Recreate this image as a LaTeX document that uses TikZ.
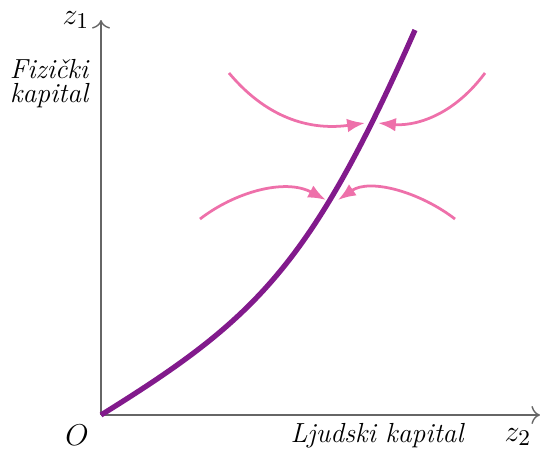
\documentclass[tikz,border=0pt]{standalone}
\usepackage{amsmath,amssymb}
\usepackage{xcolor}
\usetikzlibrary{positioning,arrows.meta}

\definecolor{curvepurple}{RGB}{130,26,140}
\definecolor{flowpink}{RGB}{238,112,170}

\begin{document}
\begin{tikzpicture}[
  x=0.014cm, y=-0.014cm,
  axis/.style={draw=black!60,line width=0.55pt,-{To[length=1.2mm]}},
  locus/.style={draw=curvepurple,line width=2.1pt},
  flow/.style={draw=flowpink,line width=1.1pt,-{Latex[length=2.5mm,width=1.9mm]}},
  lbl/.style={inner sep=1pt,align=right,font=\fontsize{11}{12.5}\selectfont\itshape},
  sym/.style={inner sep=1pt,font=\fontsize{13}{15}\selectfont}
]
  \useasboundingbox (0,0) rectangle (540,449);
  % axes
  \coordinate (o) at (101,415);
  \coordinate (ytop) at (101,20);
  \coordinate (xend) at (540,415);
  \draw[axis] (o) -- (ytop);
  \draw[axis] (o) -- (xend);
  \node[sym] (z1) at (76,20) {$z_1$};
  \node[lbl] (yname) at (49,84) {Fizički\\[-3pt]kapital};
  \node[sym] (orig) at (77,435) {$O$};
  \node[lbl] (xname) at (377,436) {Ljudski kapital};
  \node[sym] (z2) at (518,437) {$z_2$};
  % locus
  \coordinate (top) at (415,30);
  \draw[locus] (o) .. controls (254,320) and (310,268) .. (top);
  % arrows towards the locus
  \draw[flow] (229,73) .. controls (270,122) and (315,130) .. (365,123);
  \draw[flow] (485,73) .. controls (450,120) and (410,126) .. (378,123);
  \draw[flow] (200,219) .. controls (235,192) and (285,178) .. (326,200);
  \draw[flow] (455,219) .. controls (420,192) and (370,178) .. (338,200);
\end{tikzpicture}
\end{document}
